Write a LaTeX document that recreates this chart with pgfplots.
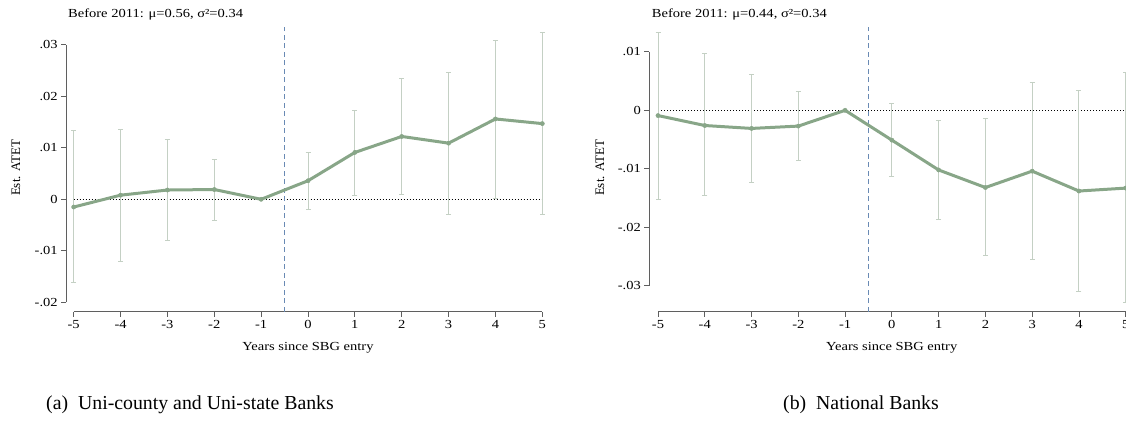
\documentclass[border=0pt]{standalone}
\usepackage{pgfplots}
\pgfplotsset{compat=1.18}
\usepackage{pgfplotstable}
\usepackage{fontspec}
\setmainfont{Liberation Serif}
\newfontfamily\chartfont[FakeStretch=1.18]{Liberation Serif}
\definecolor{lineg}{RGB}{136,166,136}
\definecolor{cig}{RGB}{196,208,196}
\definecolor{vblue}{RGB}{105,138,180}
\definecolor{axgray}{RGB}{95,95,95}

\pgfplotstableread{
x y
-5 -0.0015
-4 0.0008
-3 0.0018
-2 0.0019
-1 0
0 0.0036
1 0.0091
2 0.0122
3 0.0109
4 0.0156
5 0.0147
}\leftline
\pgfplotstableread{
x y lo hi
-5 -0.0015 -0.0162 0.0133
-4 0.0008 -0.0120 0.0136
-3 0.0018 -0.0080 0.0117
-2 0.0019 -0.0041 0.0078
0 0.0036 -0.0019 0.0091
1 0.0091 0.0008 0.0173
2 0.0122 0.0010 0.0234
3 0.0109 -0.0029 0.0246
4 0.0156 0.0001 0.0309
5 0.0147 -0.0030 0.0324
}\leftci
\pgfplotstableread{
x y
-5 -0.0009
-4 -0.0026
-3 -0.0031
-2 -0.0027
-1 0
0 -0.0051
1 -0.0102
2 -0.0132
3 -0.0104
4 -0.0138
5 -0.0133
}\rightline
\pgfplotstableread{
x y lo hi
-5 -0.0009 -0.0152 0.0133
-4 -0.0026 -0.0146 0.0097
-3 -0.0031 -0.0124 0.0062
-2 -0.0027 -0.0086 0.0032
0 -0.0051 -0.0113 0.0012
1 -0.0102 -0.0186 -0.0017
2 -0.0132 -0.0249 -0.0014
3 -0.0104 -0.0255 0.0048
4 -0.0138 -0.0309 0.0034
5 -0.0133 -0.0329 0.0064
}\rightci

\pgfplotsset{
  statastyle/.style={
    anchor=south west,
    scale only axis,
    axis line style={draw=none},
    tick align=outside,
    xtick pos=bottom, ytick pos=left,
    major tick length=5pt,
    tick style={color=axgray, line width=0.8pt},
    xtick={-5,-4,-3,-2,-1,0,1,2,3,4,5},
    xticklabels={-5,-4,-3,-2,-1,0,1,2,3,4,5},
    scaled y ticks=false, scaled x ticks=false,
    ticklabel style={font=\chartfont\fontsize{12.3}{14}\selectfont},
    clip=false,
  },
  ciplot/.style={draw=none, mark=none, forget plot,
    error bars/.cd, y dir=both, y explicit,
    error bar style={color=cig, line width=1pt},
    error mark options={rotate=90, mark size=2.5pt, color=cig, line width=1pt}},
  mainline/.style={color=lineg, line width=3pt, mark=*, mark size=2.1pt,
    mark options={fill=lineg, draw=lineg, line width=0.5pt}},
}

\begin{document}
\begin{tikzpicture}[x=1pt,y=1pt]
\useasboundingbox (0,0) rectangle (1126,424);

% ---------------- left panel ----------------
\begin{axis}[statastyle,
  at={(66.2pt,112.3pt)}, width=483.6pt, height=284.7pt,
  xmin=-5.16, xmax=5.16, ymin=-0.02183, ymax=0.03346,
  ytick={-0.02,-0.01,0,0.01,0.02,0.03},
  yticklabels={-.02,-.01,0,.01,.02,.03},
]
\draw[axgray, line width=0.8pt] (axis cs:-5,-0.02183) -- (axis cs:5,-0.02183);
\draw[axgray, line width=0.8pt] (axis cs:-5.16,-0.02) -- (axis cs:-5.16,0.03);
\draw[black, line width=0.8pt, dash pattern=on 1.2pt off 1.8pt] (axis cs:-5,0) -- (axis cs:5,0);
\addplot[ciplot] table[x=x, y=y, y error plus expr=\thisrow{hi}-\thisrow{y}, y error minus expr=\thisrow{y}-\thisrow{lo}] {\leftci};
\draw[vblue, line width=0.8pt, dash pattern=on 5pt off 3.5pt] (axis cs:-0.5,-0.02183) -- (axis cs:-0.5,0.03346);
\addplot[mainline] table[x=x, y=y] {\leftline};
\end{axis}

% ---------------- right panel ----------------
\begin{axis}[statastyle,
  at={(649.3pt,112.3pt)}, width=485.1pt, height=284.7pt,
  xmin=-5.186, xmax=5.186, ymin=-0.03443, ymax=0.01424,
  ytick={-0.03,-0.02,-0.01,0,0.01},
  yticklabels={-.03,-.02,-.01,0,.01},
]
\draw[axgray, line width=0.8pt] (axis cs:-5,-0.03443) -- (axis cs:5,-0.03443);
\draw[axgray, line width=0.8pt] (axis cs:-5.186,-0.03) -- (axis cs:-5.186,0.01);
\draw[black, line width=0.8pt, dash pattern=on 1.2pt off 1.8pt] (axis cs:-5,0) -- (axis cs:5,0);
\addplot[ciplot] table[x=x, y=y, y error plus expr=\thisrow{hi}-\thisrow{y}, y error minus expr=\thisrow{y}-\thisrow{lo}] {\rightci};
\draw[vblue, line width=0.8pt, dash pattern=on 5pt off 3.5pt] (axis cs:-0.5,-0.03443) -- (axis cs:-0.5,0.01424);
\addplot[mainline] table[x=x, y=y] {\rightline};
\end{axis}

% ---------------- texts ----------------
\node[anchor=west, inner sep=0, font=\chartfont\fontsize{12.3}{14}\selectfont] at (68,410) {Before 2011: μ=0.56, σ²=0.34};
\node[anchor=west, inner sep=0, font=\chartfont\fontsize{12.3}{14}\selectfont] at (651.7,410) {Before 2011: μ=0.44, σ²=0.34};
\node[rotate=90, inner sep=0, font=\fontsize{13}{15}\selectfont] at (16,256) {Est. ATET};
\node[rotate=90, inner sep=0, font=\fontsize{13}{15}\selectfont] at (600,256) {Est. ATET};
\node[anchor=base, inner sep=0, font=\chartfont\fontsize{12.3}{14}\selectfont] at (308,74) {Years since SBG entry};
\node[anchor=base, inner sep=0, font=\chartfont\fontsize{12.3}{14}\selectfont] at (891.7,74) {Years since SBG entry};
\node[anchor=base, inner sep=0, font=\fontsize{19.8}{23}\selectfont] at (190,15) {(a)\ \ Uni-county and Uni-state Banks};
\node[anchor=base, inner sep=0, font=\fontsize{19.8}{23}\selectfont] at (861,15) {(b)\ \ National Banks};
\end{tikzpicture}
\end{document}
